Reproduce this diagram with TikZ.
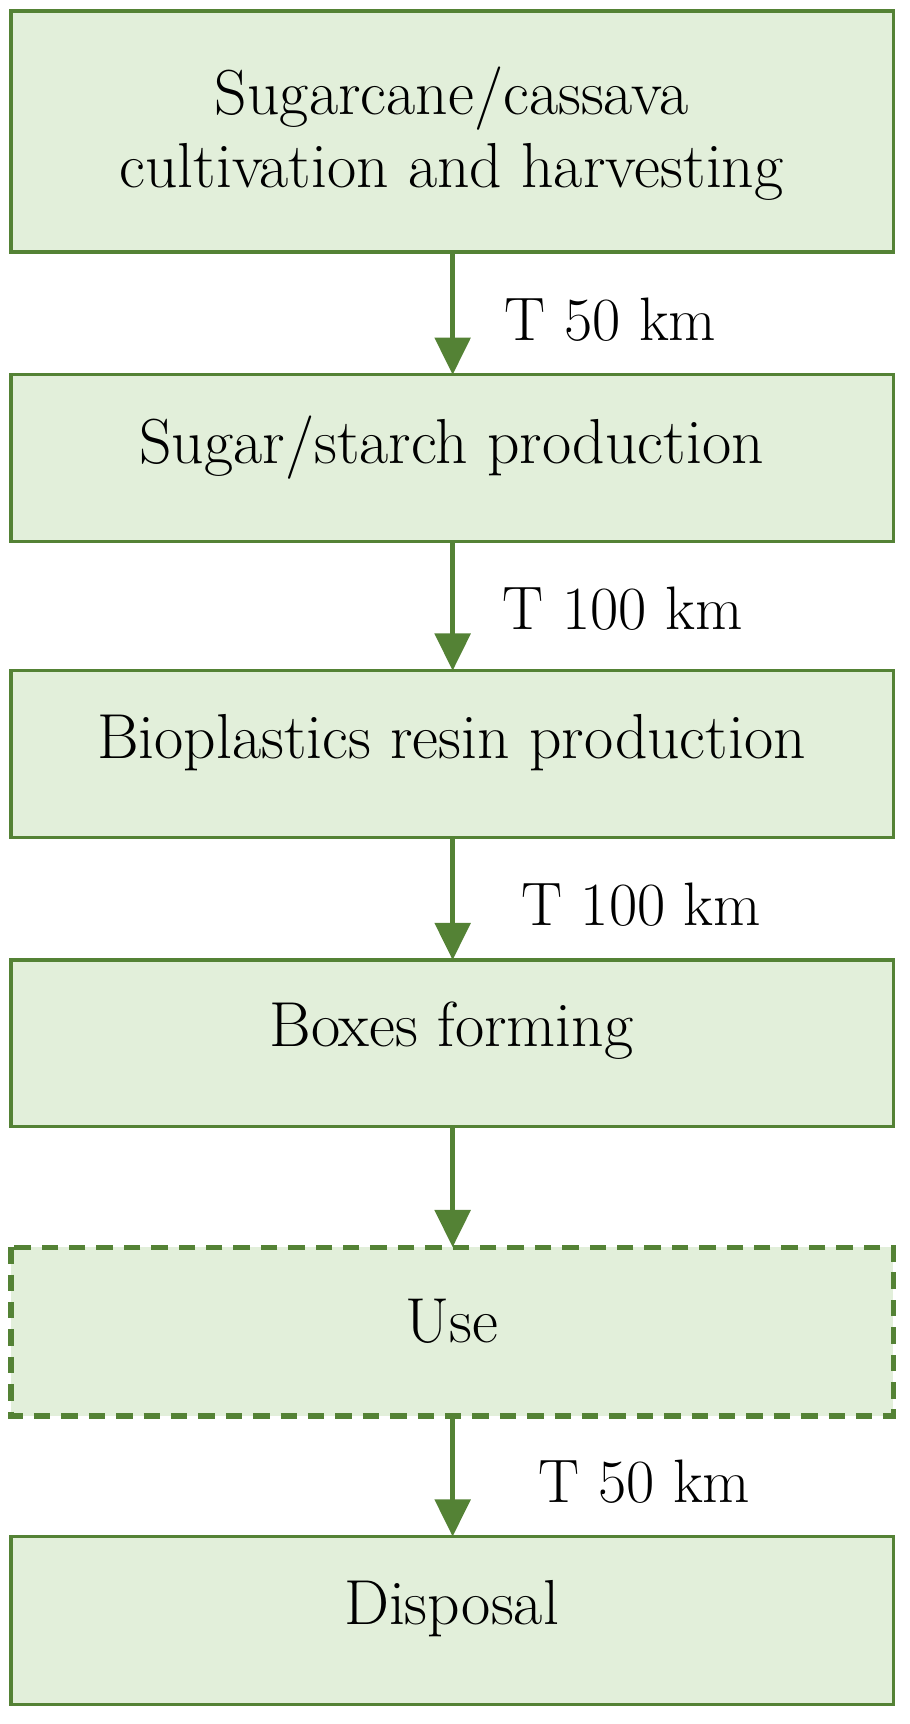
\documentclass[tikz,border=0pt]{standalone}
\usetikzlibrary{arrows.meta}
\definecolor{gr}{HTML}{548235}
\definecolor{fillg}{HTML}{E2EFDA}
\begin{document}
\begin{tikzpicture}[x=1pt,y=-1pt,
 box/.style={draw=gr,fill=fillg,line width=3pt},
 txt/.style={font=\fontsize{58}{66}\selectfont,align=center},
 arr/.style={draw=gr,line width=5pt,-{Triangle[length=34pt,width=32pt]}},
 lab/.style={font=\fontsize{56}{66}\selectfont}]
\useasboundingbox (0,0) rectangle (830,1573);
\draw[box] (10,10) rectangle (815,230);
\draw[box] (10,342) rectangle (815,494);
\draw[box] (10,612) rectangle (815,764);
\draw[box] (10,876) rectangle (815,1028);
\draw[box,dash pattern=on 15pt off 10pt,line width=5pt] (10,1138) rectangle (815,1292);
\draw[box] (10,1402) rectangle (815,1555);
\node[txt] (a) at (412,122) {Sugarcane/cassava\\cultivation and harvesting};
\node[txt] (b) at (412,408) {Sugar/starch production};
\node[txt] (c) at (412,678) {Bioplastics resin production};
\node[txt] (d) at (412,940) {Boxes forming};
\node[txt] (e) at (412,1206) {Use};
\node[txt] (f) at (412,1468) {Disposal};
\coordinate (a1) at (413,230); \coordinate (b0) at (413,342);
\coordinate (b1) at (413,494); \coordinate (c0) at (413,612);
\coordinate (c1) at (413,764); \coordinate (d0) at (413,876);
\coordinate (d1) at (413,1028); \coordinate (e0) at (413,1138);
\coordinate (e1) at (413,1292); \coordinate (f0) at (413,1402);
\draw[arr] (a1) -- (b0);
\draw[arr] (b1) -- (c0);
\draw[arr] (c1) -- (d0);
\draw[arr] (d1) -- (e0);
\draw[arr] (e1) -- (f0);
\node[lab] (l1) at (557,292) {T 50 km};
\node[lab] (l2) at (568,555) {T 100 km};
\node[lab] (l3) at (585,825) {T 100 km};
\node[lab] (l4) at (588,1352) {T 50 km};
\end{tikzpicture}
\end{document}
